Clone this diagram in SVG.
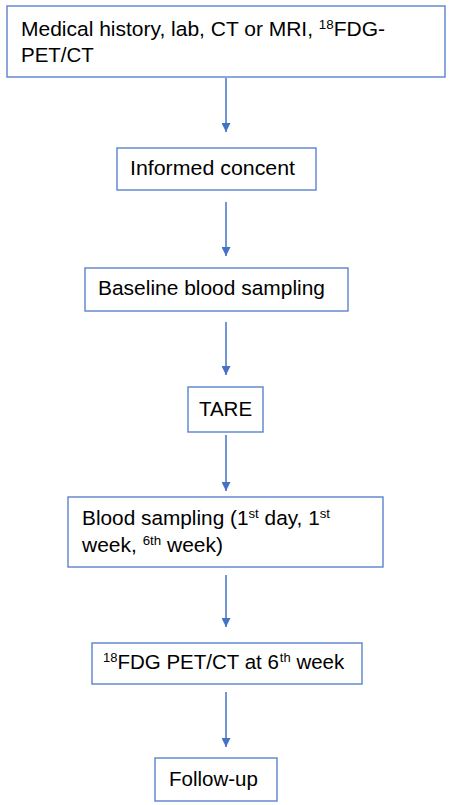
<svg xmlns="http://www.w3.org/2000/svg" width="450" height="805" viewBox="0 0 450 805">
<style>
.box{fill:#ffffff;stroke:#5b82cc;stroke-width:1.4}
.t{font-family:"Liberation Sans",Arial,sans-serif;font-size:20.5px;fill:#000000}
.sup{font-size:13px}
.arr{stroke:#4472c4;stroke-width:1.5;fill:none;marker-end:url(#ah)}
</style>
<defs>
<marker id="ah" viewBox="0 0 10 10" refX="10" refY="5" markerWidth="10" markerHeight="9" markerUnits="userSpaceOnUse" orient="auto">
<path d="M0,0 L10,5 L0,10 z" fill="#4472c4"/>
</marker>
</defs>
<rect width="450" height="805" fill="#ffffff"/>
<g id="connectors">
<line class="arr" x1="226" y1="78" x2="226" y2="132"/>
<line class="arr" x1="226" y1="202" x2="226" y2="256"/>
<line class="arr" x1="226" y1="322" x2="226" y2="375"/>
<line class="arr" x1="226" y1="435" x2="226" y2="491"/>
<line class="arr" x1="226" y1="575" x2="226" y2="627"/>
<line class="arr" x1="226" y1="692" x2="226" y2="747"/>
</g>
<g id="n1">
<rect class="box" x="7" y="6" width="438" height="71"/>
<text class="t" x="21" y="36" textLength="364" lengthAdjust="spacingAndGlyphs">Medical history, lab, CT or MRI, <tspan class="sup" dy="-7">18</tspan><tspan dy="7">FDG-</tspan></text>
<text class="t" x="21" y="62">PET/CT</text>
</g>
<g id="n2">
<rect class="box" x="117" y="148" width="199" height="42"/>
<text class="t" x="130" y="175" textLength="165" lengthAdjust="spacingAndGlyphs">Informed concent</text>
</g>
<g id="n3">
<rect class="box" x="85" y="268" width="263" height="43"/>
<text class="t" x="98" y="295" textLength="227" lengthAdjust="spacingAndGlyphs">Baseline blood sampling</text>
</g>
<g id="n4">
<rect class="box" x="188" y="387" width="75" height="45"/>
<text class="t" x="225.5" y="416" text-anchor="middle">TARE</text>
</g>
<g id="n5">
<rect class="box" x="68" y="497" width="315" height="70"/>
<text class="t" x="82" y="525" textLength="248" lengthAdjust="spacingAndGlyphs">Blood sampling (1<tspan class="sup" dy="-7">st</tspan><tspan dy="7"> day, 1</tspan><tspan class="sup" dy="-7">st</tspan></text>
<text class="t" x="82" y="552" textLength="141" lengthAdjust="spacingAndGlyphs">week, <tspan class="sup" dy="-7">6th</tspan><tspan dy="7"> week)</tspan></text>
</g>
<g id="n6">
<rect class="box" x="92" y="643" width="270" height="41"/>
<text class="t" x="103" y="669"><tspan class="sup" dy="-7">18</tspan><tspan dy="7">FDG PET/CT at 6</tspan><tspan class="sup" dx="1" dy="-7">th</tspan><tspan dy="7"> week</tspan></text>
</g>
<g id="n7">
<rect class="box" x="155" y="758" width="122" height="43"/>
<text class="t" x="169" y="786">Follow-up</text>
</g>
</svg>
